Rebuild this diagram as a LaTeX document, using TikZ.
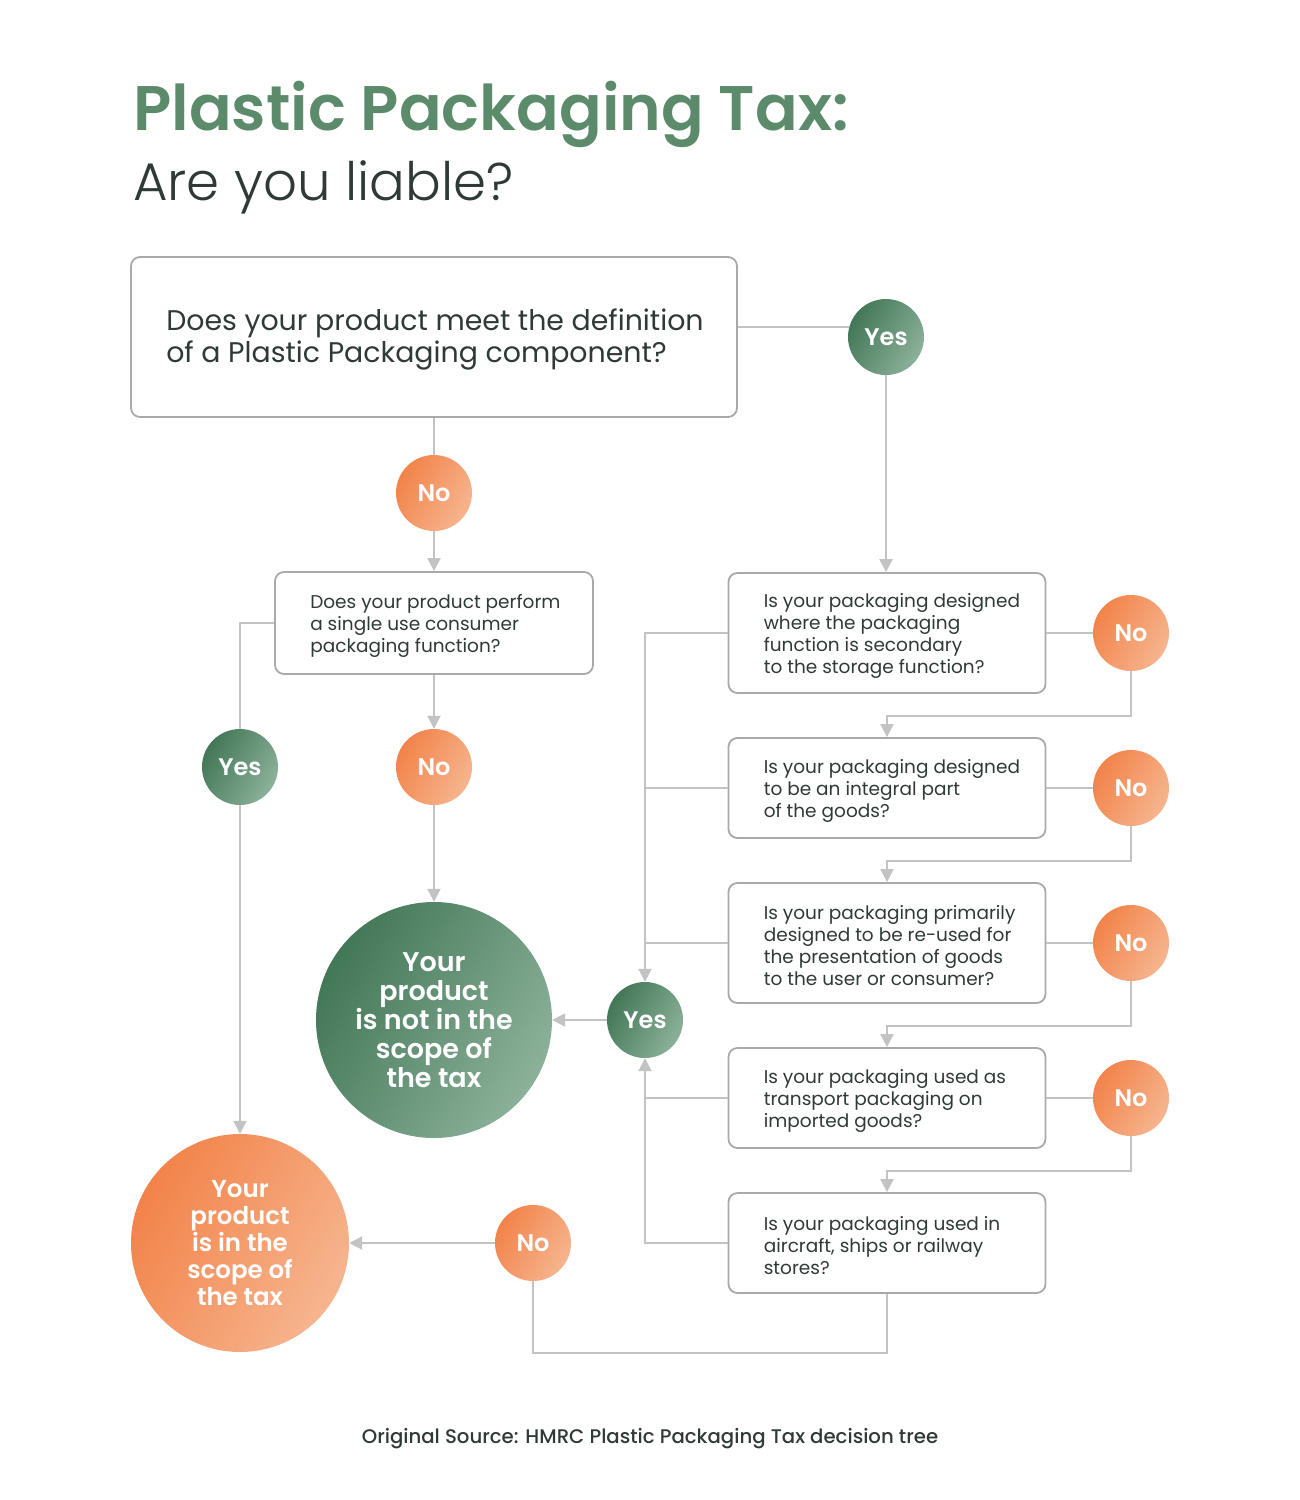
\documentclass[tikz,border=0pt]{standalone}
\usepackage{fontspec}
\setmainfont{Poppins}[BoldFont=Poppins SemiBold]
\newfontfamily\lightfont{Poppins Light}
\newfontfamily\mediumfont{Poppins Medium}
\usetikzlibrary{positioning,arrows.meta}

\definecolor{titlegreen}{HTML}{5B8B6B}
\definecolor{inkdark}{HTML}{2F3A35}
\definecolor{boxgray}{HTML}{A9A9A9}
\definecolor{linegray}{HTML}{C3C3C3}
\definecolor{greendark}{HTML}{427757}
\definecolor{greenlight}{HTML}{8CB19A}
\definecolor{orangedark}{HTML}{F2834A}
\definecolor{orangelight}{HTML}{F6B58F}

\tikzset{
  qbox/.style={draw=boxgray, line width=1.8pt, rounded corners=9pt, minimum width=317pt, minimum height=100pt},
  qtext/.style={anchor=west, align=left, inner sep=0pt, yshift=-3pt, text=inkdark, font=\fontsize{18.5}{22}\selectfont},
  yesdot/.style={circle, minimum size=76pt, inner sep=0pt, left color=greendark, right color=greenlight, shading angle=60, text=white, font=\bfseries\fontsize{24}{24}\selectfont},
  nodot/.style={circle, minimum size=76pt, inner sep=0pt, left color=orangedark, right color=orangelight, shading angle=60, text=white, font=\bfseries\fontsize{24}{24}\selectfont},
  flow/.style={draw=linegray, line width=2pt, -{Triangle[length=13pt,width=13pt]}},
  link/.style={draw=linegray, line width=2pt},
}

\begin{document}
\begin{tikzpicture}[x=1pt, y=-1pt]
\useasboundingbox (0,0) rectangle (1300,1500);

% title
\node (title) [anchor=base west, inner sep=0pt, text=titlegreen, font=\bfseries\fontsize{63}{63}\selectfont] at (133,130) {Plastic Packaging Tax:};
\node (subtitle) [anchor=base west, inner sep=0pt, text=inkdark, font=\lightfont\fontsize{53}{53}\selectfont] at (133,200) {Are you liable?};

% first question
\node (defbox) [qbox, minimum width=606pt, minimum height=160pt] at (434,337) {};
\node (deftext) [qtext, right=36pt of defbox.west, yshift=1pt, font=\fontsize{28.4}{32}\selectfont] {Does your product meet the definition\\of a Plastic Packaging component?};
\node (yes1) [yesdot] at (886,337) {Yes};
\node (no1) [nodot] at (434,493) {No};

% single use question
\node (usebox) [qbox, minimum width=318pt, minimum height=102pt] at (434,623) {};
\node (usetext) [qtext, right=36pt of usebox.west] {Does your product perform\\a single use consumer\\packaging function?};
\node (yes2) [yesdot] at (240,767) {Yes};
\node (no2) [nodot] at (434,767) {No};

% right hand questions
\node (q1) [qbox, minimum height=120pt] at (887,633) {};
\node (q1text) [qtext, right=36pt of q1.west] {Is your packaging designed\\where the packaging\\function is secondary\\to the storage function?};
\node (q2) [qbox] at (887,788) {};
\node (q2text) [qtext, right=36pt of q2.west] {Is your packaging designed\\to be an integral part\\of the goods?};
\node (q3) [qbox, minimum height=120pt] at (887,943) {};
\node (q3text) [qtext, right=36pt of q3.west] {Is your packaging primarily\\designed to be re-used for\\the presentation of goods\\to the user or consumer?};
\node (q4) [qbox] at (887,1098) {};
\node (q4text) [qtext, right=36pt of q4.west] {Is your packaging used as\\transport packaging on\\imported goods?};
\node (q5) [qbox] at (887,1243) {};
\node (q5text) [qtext, right=36pt of q5.west] {Is your packaging used in\\aircraft, ships or railway\\stores?};

\node (noq1) [nodot] at (1131,633) {No};
\node (noq2) [nodot] at (1131,788) {No};
\node (noq3) [nodot] at (1131,943) {No};
\node (noq4) [nodot] at (1131,1098) {No};
\node (yes3) [yesdot] at (645,1020) {Yes};
\node (no5) [nodot] at (533,1243) {No};

% outcomes
\node (outscope) [yesdot, minimum size=236pt, align=center, font=\bfseries\fontsize{27}{29}\selectfont] at (434,1020) {Your\\product\\is not in the\\scope of\\the tax};
\node (inscope) [nodot, minimum size=218pt, align=center, font=\bfseries\fontsize{24.5}{27}\selectfont] at (240,1243) {Your\\product\\is in the\\scope of\\the tax};

\node (source) [anchor=base, inner sep=0pt, text=inkdark, font=\mediumfont\fontsize{19.7}{19.7}\selectfont] at (650,1443) {Original Source: HMRC Plastic Packaging Tax decision tree};

% connectors
\draw[link] (defbox.east |- yes1.165) -- (yes1.165);
\draw[flow] (yes1.south) -- (yes1.south |- q1.north);
\draw[link] (defbox.south) -- (no1.north);
\draw[flow] (no1.south) -- (usebox.north);
\draw[link] (usebox.west) -| (yes2.north);
\draw[flow] (yes2.south) -- (inscope.north);
\draw[flow] (usebox.south) -- (no2.north);
\draw[flow] (no2.south) -- (outscope.north);

\coordinate (t1) at ([yshift=-22pt]q1.south);
\coordinate (t2) at ([yshift=-22pt]q2.south);
\coordinate (t3) at ([yshift=-22pt]q3.south);
\coordinate (t4) at ([yshift=-22pt]q4.south);
\coordinate (t5) at ([yshift=-59pt]q5.south);
\draw[link] (q1.east) -- (noq1.west);
\draw[link] (q2.east) -- (noq2.west);
\draw[link] (q3.east) -- (noq3.west);
\draw[link] (q4.east) -- (noq4.west);
\draw[flow] (noq1.south) |- (t1) -- (q2.north);
\draw[flow] (noq2.south) |- (t2) -- (q3.north);
\draw[flow] (noq3.south) |- (t3) -- (q4.north);
\draw[flow] (noq4.south) |- (t4) -- (q5.north);

\draw[flow] (q1.west) -| (yes3.north);
\draw[link] (q2.west) -- (q2.west -| yes3.north);
\draw[link] (q3.west) -- (q3.west -| yes3.north);
\draw[link] (q4.west) -- (q4.west -| yes3.south);
\draw[flow] (q5.west) -| (yes3.south);
\draw[flow] (yes3.west) -- (outscope.east);

\draw[link] (q5.south) -- (t5) -| (no5.south);
\draw[flow] (no5.west) -- (inscope.east);
\end{tikzpicture}
\end{document}
